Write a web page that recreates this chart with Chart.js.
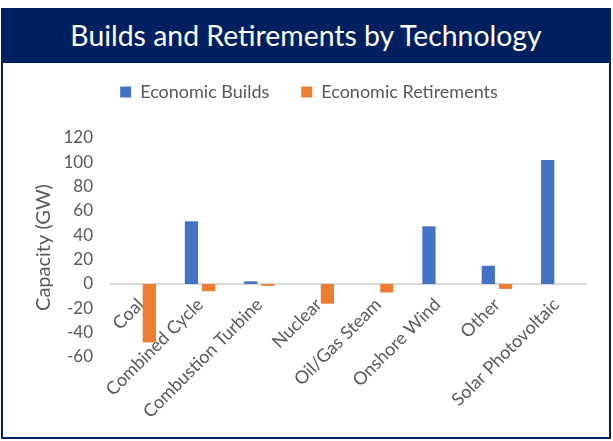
<!DOCTYPE html>
<html>
<head>
<meta charset="utf-8">
<script src="https://cdn.jsdelivr.net/npm/chart.js@4.4.1/dist/chart.umd.min.js"></script>
<style>
  html, body { margin: 0; padding: 0; background: #fff; }
  #frame { position: absolute; left: 1px; top: 8px; width: 606px; height: 429px; border: 2px solid #002060; border-top: none; }
  #header { position: absolute; left: 1px; top: 8px; width: 610px; height: 55px; background: #002060; color: #fff;
            font: 28.4px Lato, sans-serif; text-align: center; line-height: 55px; }
  #wrap { position: absolute; left: 0; top: 0; width: 613px; height: 441px; }
</style>
</head>
<body>
<div id="frame"></div>
<div id="header">Builds and Retirements by Technology</div>
<div id="wrap"><canvas id="chart"></canvas></div>
<script>
const categories = ['Coal', 'Combined Cycle', 'Combustion Turbine', 'Nuclear', 'Oil/Gas Steam', 'Onshore Wind', 'Other', 'Solar Photovoltaic'];
const builds = [0, 51.5, 2.2, 0, 0, 47.4, 15, 102];
const retirements = [-48, -6, -1.5, -16.2, -7, 0, -4, 0];
const yTicks = { min: -60, max: 120, step: 20 };

const grey = '#595959';
const font = { family: 'Lato, sans-serif', size: 18 };

// push the plot down a bit below the legend
const legendGap = {
  id: 'legendGap',
  beforeInit(chart) {
    const fit = chart.legend.fit;
    chart.legend.fit = function () {
      fit.call(this);
      this.height += 27;
    };
  }
};

new Chart(document.getElementById('chart'), {
  type: 'bar',
  data: {
    labels: categories,
    datasets: [
      { label: 'Economic Builds', data: builds, backgroundColor: '#4472C4',
        categoryPercentage: 0.58, barPercentage: 0.77 },
      { label: 'Economic Retirements', data: retirements, backgroundColor: '#ED7D31',
        categoryPercentage: 0.58, barPercentage: 0.77 }
    ]
  },
  plugins: [legendGap],
  options: {
    responsive: true,
    maintainAspectRatio: false,
    animation: false,
    layout: { padding: { top: 51, left: 32, right: 27, bottom: 84 } },
    plugins: {
      tooltip: { enabled: false },
      legend: {
        position: 'top',
        labels: { boxWidth: 11, boxHeight: 11, padding: 32, color: grey, font: font }
      }
    },
    scales: {
      x: {
        position: { y: 0 },
        grid: { display: false, drawTicks: false },
        border: { display: true, color: '#d9d9d9', width: 2 },
        ticks: { minRotation: 45, maxRotation: 45, autoSkip: false, padding: 10, color: grey, font: font }
      },
      y: {
        min: yTicks.min,
        max: yTicks.max,
        grid: { display: false, drawTicks: false },
        border: { display: false },
        ticks: { stepSize: yTicks.step, padding: 18, color: grey, font: { family: 'Lato, sans-serif', size: 17 } },
        title: { display: true, text: 'Capacity (GW)', color: grey,
                 font: { family: 'Lato, sans-serif', size: 20 }, padding: { top: 0, bottom: 0 } },
        afterFit: s => { s.width = 79; }
      }
    }
  }
});
</script>
</body>
</html>
